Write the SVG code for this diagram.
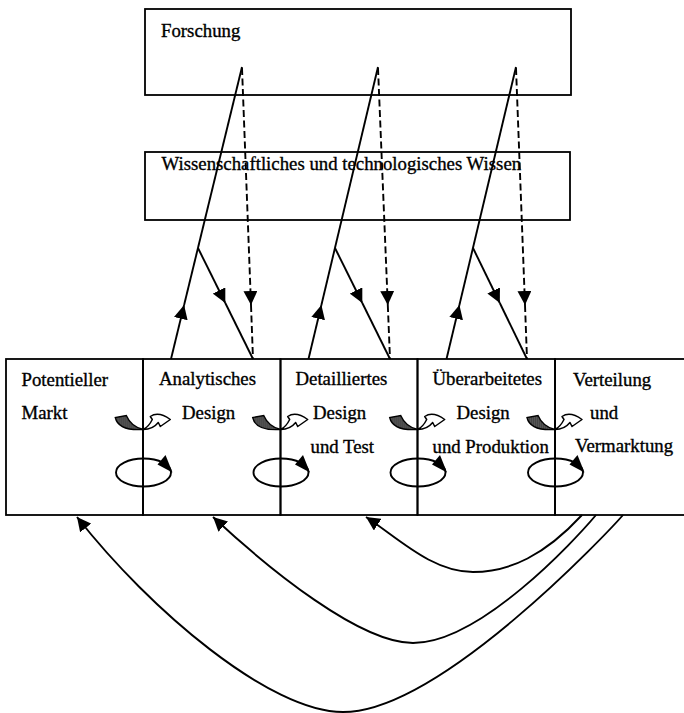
<svg xmlns="http://www.w3.org/2000/svg" width="684" height="713" viewBox="0 0 684 713">
  <style>
    .box { fill: none; stroke: #000; stroke-width: 1.8; }
    .lbl { font-family: "Liberation Serif", "Times New Roman", serif; font-size: 18.8px; fill: #000; stroke: #000; stroke-width: 0.35; }
    .ln { fill: none; stroke: #000; stroke-width: 1.9; }
    .dash { fill: none; stroke: #000; stroke-width: 1.9; stroke-dasharray: 7 3.5; }
    .curve { fill: none; stroke: #000; stroke-width: 1.9; }
    .hook-tail { fill: url(#halftone); stroke: #000; stroke-width: 1.4; }
    .hook-head { fill: #fff; stroke: #000; stroke-width: 1.5; stroke-linejoin: round; }
    .loop { fill: none; stroke: #000; stroke-width: 1.9; }
  </style>
  <defs>
    <marker id="tri" viewBox="0 0 14 14" refX="14" refY="7" markerWidth="14" markerHeight="14" markerUnits="userSpaceOnUse" orient="auto">
      <path d="M0,0 L14,7 L0,14 z" fill="#000"/>
    </marker>
    <pattern id="halftone" width="2" height="2" patternUnits="userSpaceOnUse">
      <rect width="2" height="2" fill="#888"/>
      <rect width="1" height="1" fill="#000"/>
      <rect x="1" y="1" width="1" height="1" fill="#222"/>
    </pattern>
    <!-- hand-over hook: shaded tail on the left, outlined head on the right -->
    <g id="hook">
      <path class="hook-tail" d="M-28,-12 C-26,-3 -16,1 0,0 C-9,-2 -14,-7 -17,-14 Z"/>
      <path class="hook-head" d="M0,0 C4,-2 7,-6 9,-10 L7,-13 C13,-17 20,-15 27,-10 L17,-3 L15,-7 C11,-2 5,0 0,0 Z"/>
    </g>
    <!-- iteration loop with clockwise head -->
    <g id="loop">
      <ellipse class="loop" cx="0" cy="0" rx="27.5" ry="14"/>
      <path d="M14,-8 L22,-17.5 L29,0 Z" fill="#000"/>
    </g>
  </defs>

  <rect width="684" height="713" fill="#fff"/>

  <g id="forschung">
    <rect class="box" x="145" y="9" width="426" height="86"/>
    <text class="lbl" x="161" y="36.5">Forschung</text>
  </g>

  <g id="wissen">
    <rect class="box" x="145" y="152" width="425" height="68"/>
    <text class="lbl" x="161.5" y="170">Wissenschaftliches und technologisches Wissen</text>
  </g>

  <g id="potentieller-markt">
    <rect class="box" x="6" y="359" width="137" height="156"/>
    <text class="lbl" x="21.5" y="385.5">Potentieller</text>
    <text class="lbl" x="21.5" y="419">Markt</text>
  </g>

  <g id="analytisches-design">
    <rect class="box" x="143" y="359" width="137.5" height="156"/>
    <text class="lbl" x="159" y="385">Analytisches</text>
    <text class="lbl" x="182" y="419">Design</text>
  </g>

  <g id="detailliertes-design">
    <rect class="box" x="280.5" y="359" width="137" height="156"/>
    <text class="lbl" x="295.5" y="385">Detailliertes</text>
    <text class="lbl" x="313" y="419">Design</text>
    <text class="lbl" x="310.5" y="452.5">und Test</text>
  </g>

  <g id="ueberarbeitetes-design">
    <rect class="box" x="417.5" y="359" width="137.5" height="156"/>
    <text class="lbl" x="432.5" y="385">Überarbeitetes</text>
    <text class="lbl" x="456.5" y="419">Design</text>
    <text class="lbl" x="432.5" y="452.5">und Produktion</text>
  </g>

  <g id="verteilung">
    <rect class="box" x="555" y="359" width="150" height="156"/>
    <text class="lbl" x="573" y="385.5">Verteilung</text>
    <text class="lbl" x="590" y="419">und</text>
    <text class="lbl" x="575" y="452">Vermarktung</text>
  </g>

  <g id="connectors">
    <!-- knowledge links: up to research, down through knowledge, back into the stage -->
    <path class="ln" d="M171,359 L184.1,305" marker-end="url(#tri)"/>
    <path class="ln" d="M184.1,305 L242,67"/>
    <path class="ln" d="M198,248 L225.3,303" marker-end="url(#tri)"/>
    <path class="ln" d="M225.3,303 L253,359"/>
    <path class="dash" d="M242,68 L251,305" marker-end="url(#tri)"/>
    <path class="dash" d="M251,305 L253,359"/>

    <path class="ln" d="M308.5,359 L321.4,305" marker-end="url(#tri)"/>
    <path class="ln" d="M321.4,305 L378,67"/>
    <path class="ln" d="M335,248 L362.3,303" marker-end="url(#tri)"/>
    <path class="ln" d="M362.3,303 L390,359"/>
    <path class="dash" d="M378,68 L387.8,305" marker-end="url(#tri)"/>
    <path class="dash" d="M387.8,305 L390,359"/>

    <path class="ln" d="M446.5,359 L459.4,305" marker-end="url(#tri)"/>
    <path class="ln" d="M459.4,305 L516,67"/>
    <path class="ln" d="M473,248 L499.8,303" marker-end="url(#tri)"/>
    <path class="ln" d="M499.8,303 L527,359"/>
    <path class="dash" d="M516,68 L525,305" marker-end="url(#tri)"/>
    <path class="dash" d="M525,305 L527,359"/>

    <!-- hand-overs between neighbouring stages -->
    <use href="#hook" transform="translate(143.3,429.5)"/>
    <use href="#hook" transform="translate(280.7,429.5)"/>
    <use href="#hook" transform="translate(417.7,429.5)"/>
    <use href="#hook" transform="translate(555,429.5)"/>

    <!-- iteration loops on the stage boundaries -->
    <use href="#loop" transform="translate(143.5,472.5)"/>
    <use href="#loop" transform="translate(281,472.5)"/>
    <use href="#loop" transform="translate(418,472.5)"/>
    <use href="#loop" transform="translate(555.5,472.5)"/>

    <!-- feedback from distribution back to earlier stages -->
    <path class="curve" d="M582,515 C545,555 510,572 473,572 C432,572 398,538 366,517" marker-end="url(#tri)"/>
    <path class="curve" d="M596,515 C575,540 480,643 413,643 C360,643 270,570 213,517" marker-end="url(#tri)"/>
    <path class="curve" d="M623,515 C610,530 440,712 343,712 C270,712 150,610 77,517" marker-end="url(#tri)"/>
  </g>
</svg>
